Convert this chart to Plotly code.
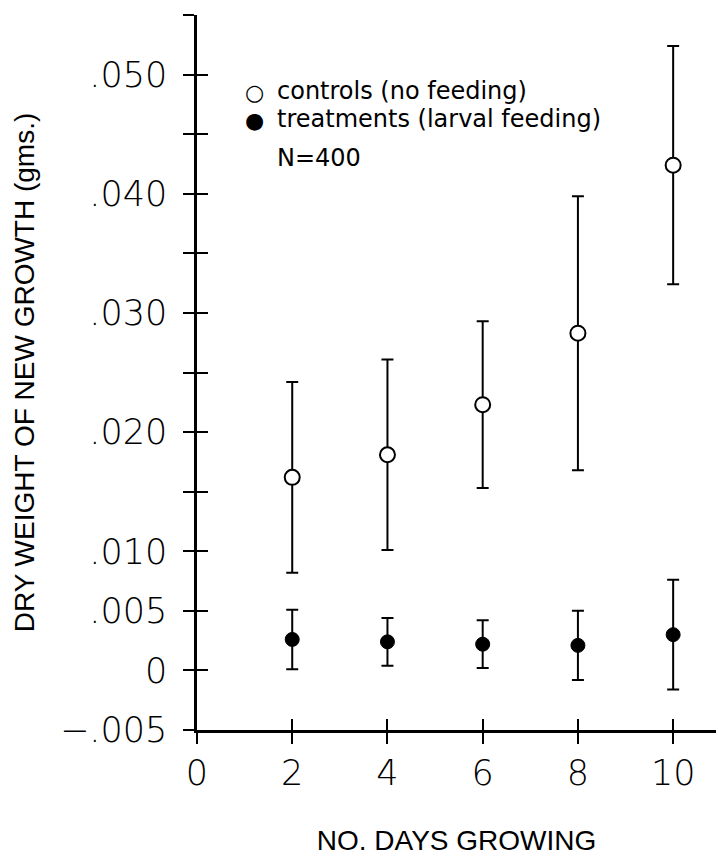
import plotly.graph_objects as go

# ---- data ----
days = [2, 4, 6, 8, 10]
controls_mean = [0.0162, 0.0181, 0.0223, 0.0283, 0.0424]
controls_err = [0.0080, 0.0080, 0.0070, 0.0115, 0.0100]
treat_mean = [0.0026, 0.0024, 0.0022, 0.0021, 0.0030]
treat_err = [0.0025, 0.0020, 0.0020, 0.0029, 0.0046]

y_tickvals = [-0.005, 0, 0.005, 0.010, 0.015, 0.020, 0.025, 0.030, 0.035, 0.040, 0.045, 0.050, 0.055]
y_ticktext = ["\u2212.005", "0", ".005", ".010", "", ".020", "", ".030", "", ".040", "", ".050", ""]
x_tickvals = [0, 2, 4, 6, 8, 10]
x_ticktext = ["0", "2", "4", "6", "8", "10"]

legend_rows = ["controls (no feeding)", "treatments (larval feeding)", "N=400"]
legend_symbols = ["\u25CB", "\u25CF"]

X_RANGE = [0, 10.9]
Y_RANGE = [-0.005, 0.055]

TICK_FONT = dict(family="DejaVu Sans", size=35, color="black", weight=200)
YTITLE_FONT = dict(family="Liberation Sans", size=28, color="black")
XTITLE_FONT = dict(family="Liberation Sans", size=28, color="black")
LEG_FONT = dict(family="DejaVu Sans", size=24, color="black")

fig = go.Figure()

fig.add_trace(go.Scatter(
    x=days, y=controls_mean, mode="markers", name="controls (no feeding)",
    marker=dict(symbol="circle", size=15, color="white", line=dict(color="black", width=2)),
    error_y=dict(type="data", array=controls_err, visible=True, color="black", thickness=2, width=6),
    showlegend=False,
))
fig.add_trace(go.Scatter(
    x=days, y=treat_mean, mode="markers", name="treatments (larval feeding)",
    marker=dict(symbol="circle", size=14, color="black", line=dict(color="black", width=1)),
    error_y=dict(type="data", array=treat_err, visible=True, color="black", thickness=2, width=6),
    showlegend=False, xaxis="x2", yaxis="y2",
))

axis_common = dict(showgrid=False, zeroline=False, linecolor="black", linewidth=2.5,
                   tickcolor="black", tickwidth=2, ticklen=11, mirror=False)

fig.update_layout(
    width=718, height=856,
    paper_bgcolor="white", plot_bgcolor="white",
    margin=dict(l=197, r=2, t=15, b=126),
    xaxis=dict(range=X_RANGE, tickmode="array", tickvals=x_tickvals, ticktext=x_ticktext,
               ticks="outside", showline=True, tickfont=TICK_FONT, ticklabelstandoff=-1,
               title=dict(text="NO. DAYS GROWING", font=XTITLE_FONT, standoff=41),
               anchor="y", **axis_common),
    yaxis=dict(range=Y_RANGE, tickmode="array", tickvals=y_tickvals, ticktext=y_ticktext,
               ticks="outside", showline=True, tickfont=TICK_FONT, ticklabelstandoff=9,
               title=dict(text="DRY WEIGHT OF NEW GROWTH (gms.)", font=YTITLE_FONT, standoff=18),
               anchor="x", **axis_common),
    xaxis2=dict(range=X_RANGE, tickmode="array", tickvals=x_tickvals, ticks="inside",
                showticklabels=False, showline=False, overlaying="x", anchor="y2", side="bottom",
                **axis_common),
    yaxis2=dict(range=Y_RANGE, tickmode="array", tickvals=y_tickvals, ticks="inside",
                showticklabels=False, showline=False, overlaying="y", anchor="x2", side="left",
                **axis_common),
)

# legend drawn as text, matching the reference's tight spacing
symbol_y = [0.04846, 0.04615]
text_y = [0.04863, 0.04628, 0.04304]
for sym, yy in zip(legend_symbols, symbol_y):
    fig.add_annotation(x=1.2, y=yy, xref="x", yref="y", text=sym, showarrow=False,
                       xanchor="center", yanchor="middle",
                       font=dict(family="DejaVu Sans", size=22, color="black"))
for txt, yy in zip(legend_rows, text_y):
    fig.add_annotation(x=1.64, y=yy, xref="x", yref="y", text=txt, showarrow=False,
                       xanchor="left", yanchor="middle", font=LEG_FONT)

fig.write_html("out.html", config={"displayModeBar": False},
               post_script="document.body.style.margin='0px';")
